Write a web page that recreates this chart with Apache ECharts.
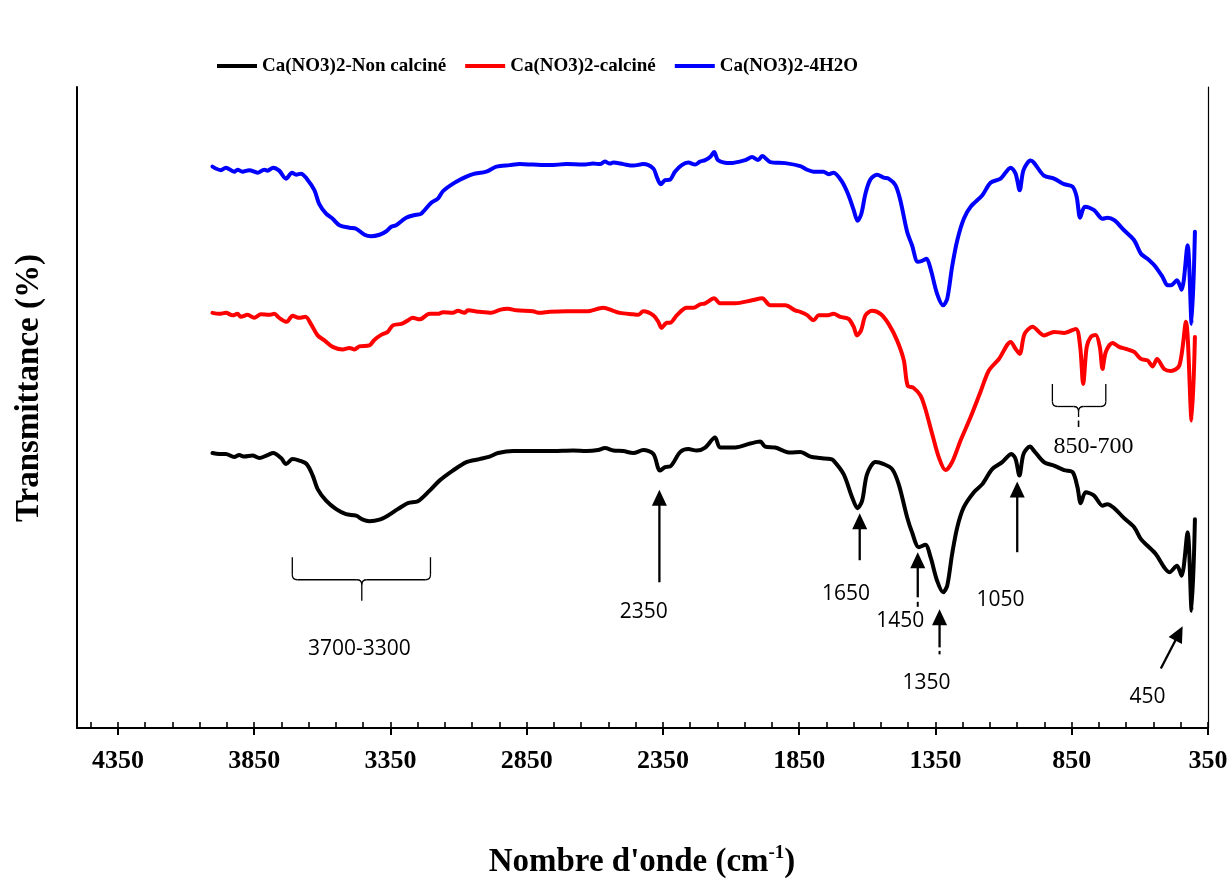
<!DOCTYPE html>
<html><head><meta charset="utf-8">
<script src="https://cdn.jsdelivr.net/npm/echarts@6/dist/echarts.min.js"></script>
<style>html,body{margin:0;padding:0;background:#fff}#c{width:1232px;height:885px}</style>
</head><body><div id="c"></div>
<script>
// ---------------- data (wavenumber cm-1, transmittance a.u.) ----------------
const seriesNames = ['Ca(NO3)2-Non calciné', 'Ca(NO3)2-calciné', 'Ca(NO3)2-4H2O'];
const seriesColors = ['#000000', '#ff0000', '#0000ff'];

const nonCalcine = [[4003,54.9],[3978,54.7],[3954,54.7],[3923,54.1],[3905,54.5],[3886,54.2],[3856,54.4],[3831,53.9],[3801,54.5],[3780,54.9],[3751,53.9],[3733,52.7],[3709,53.7],[3684,53.4],[3657,52.7],[3635,50.4],[3617,47.7],[3586,45.4],[3549,43.7],[3513,42.7],[3476,42.4],[3451,41.6],[3427,41.3],[3390,41.6],[3360,42.4],[3323,43.7],[3286,44.9],[3249,45.3],[3206,47.4],[3170,49.4],[3121,51.4],[3071,53.1],[3023,53.7],[2986,54.2],[2955,54.9],[2900,55.3],[2827,55.3],[2753,55.3],[2680,55.4],[2630,55.3],[2588,55.5],[2563,55.9],[2532,55.4],[2496,55.3],[2459,54.9],[2422,55.5],[2385,54.7],[2361,51.4],[2342,52.1],[2324,52.2],[2287,55.1],[2257,55.7],[2226,55.4],[2195,56],[2159,58],[2140,56],[2085,56],[2030,56.8],[1993,57.2],[1975,56.2],[1938,56],[1883,55],[1846,55.1],[1809,54.2],[1773,53.9],[1736,53.7],[1724,53.4],[1687,50.7],[1656,46.1],[1636,43.9],[1619,45.4],[1601,50.7],[1570,53.1],[1540,52.7],[1509,51.7],[1485,48.7],[1454,42.1],[1436,39.1],[1411,36.1],[1387,36.6],[1368,34.1],[1344,29.4],[1322,27.1],[1307,28.4],[1289,34.7],[1270,40.1],[1246,44.1],[1209,47.1],[1178,48.7],[1142,51.7],[1105,53.1],[1071,54.7],[1056,53.7],[1042,50.4],[1027,54.7],[1003,56.2],[989,55.4],[952,53.1],[915,52.4],[878,51.5],[847,51.1],[829,48.1],[817,44.9],[799,47.1],[768,46.4],[737,44.4],[719,44.7],[694,43.9],[658,41.9],[621,40.1],[596,37.7],[572,36.4],[541,34.7],[511,32.1],[492,31.1],[464,32.4],[447,30.4],[425,39.1],[410,23.4],[398,41.7]];

const calcine = [[4003,82.9],[3978,82.7],[3954,82.9],[3929,82.4],[3911,82.7],[3899,82.1],[3874,82.5],[3850,81.9],[3825,82.6],[3795,82.5],[3776,82.7],[3758,81.9],[3731,81.1],[3709,82.3],[3684,81.9],[3662,82.1],[3641,80.6],[3617,78.4],[3592,77.4],[3562,76.1],[3525,75.6],[3500,75.9],[3482,75.6],[3464,76.2],[3427,76.4],[3409,77.5],[3384,78.5],[3360,79.1],[3341,80.4],[3310,80.7],[3292,81.2],[3268,81.9],[3243,81.6],[3206,82.7],[3176,82.7],[3157,83],[3121,82.9],[3102,83.3],[3078,82.9],[3066,83.4],[3023,83.1],[2980,82.9],[2949,83.5],[2919,83.7],[2888,83.4],[2827,83.2],[2802,82.9],[2765,83.1],[2704,83.2],[2630,83.2],[2569,83.9],[2532,83.3],[2508,82.9],[2459,82.6],[2441,82.5],[2422,83.2],[2385,82.4],[2367,81.1],[2355,79.9],[2336,80.9],[2324,80.9],[2299,82.4],[2263,83.9],[2238,83.9],[2214,84.6],[2195,84.8],[2162,85.8],[2140,84.8],[2085,84.8],[2023,85.4],[1986,85.8],[1956,84.4],[1901,84.4],[1865,83.4],[1846,83.1],[1822,82.5],[1797,81.4],[1779,82.4],[1748,82.4],[1724,82.7],[1699,82.1],[1669,81.7],[1650,80.1],[1638,78.4],[1623,79.4],[1607,82.4],[1583,83.3],[1552,82.7],[1522,80.7],[1491,77.4],[1466,73.4],[1452,68.4],[1430,67.9],[1405,66.4],[1387,63.7],[1362,58.7],[1338,54.1],[1313,51.5],[1289,53.1],[1258,57.4],[1221,62.1],[1185,67.1],[1154,71.4],[1117,73.7],[1074,77.1],[1056,75.7],[1041,74.7],[1023,78.7],[994,80.1],[952,78.4],[915,79.1],[878,78.9],[835,79.7],[819,76.1],[808,68.7],[795,76.1],[780,78.1],[762,78.5],[747,76.1],[737,71.7],[725,75.1],[700,76.9],[676,76.1],[651,75.7],[621,75.1],[596,73.7],[572,73.4],[553,72.2],[537,73.7],[511,71.7],[486,71.3],[455,72.4],[431,81.1],[410,61.4],[398,78.1]];

const tetrahydrate = [[4003,112.1],[3972,111.4],[3954,111.9],[3923,111.1],[3911,111.5],[3893,111.1],[3868,111.4],[3837,110.9],[3813,111.5],[3801,111.3],[3780,111.9],[3758,111.3],[3733,109.7],[3711,110.9],[3696,110.5],[3678,110.7],[3657,109.7],[3629,107.4],[3611,104.6],[3586,102.7],[3562,101.7],[3537,100.4],[3500,99.9],[3476,99.7],[3445,98.5],[3421,98.2],[3390,98.5],[3365,99.2],[3347,100.1],[3329,100.4],[3292,101.9],[3255,102.5],[3237,102.7],[3200,104.9],[3176,105.7],[3157,107.2],[3114,108.9],[3071,110.1],[3047,110.6],[2998,111.1],[2961,112.1],[2912,112.4],[2875,112.6],[2827,112.5],[2765,112.4],[2704,112.6],[2643,112.5],[2606,112.7],[2581,112.6],[2563,113.1],[2545,112.7],[2532,112.9],[2496,112.6],[2459,112.3],[2422,112.6],[2385,111.7],[2373,110.1],[2358,108.6],[2342,109.4],[2324,109.5],[2306,111.1],[2281,112.4],[2257,112.9],[2232,112.5],[2214,113.1],[2195,113.4],[2177,114],[2162,115],[2148,113.4],[2103,112.8],[2048,113.4],[2023,114],[2001,113.4],[1986,114.2],[1956,113],[1901,112.8],[1846,112.2],[1822,111.5],[1797,111.1],[1761,111.1],[1742,110.6],[1724,110.9],[1693,109.1],[1669,106.4],[1650,103.4],[1636,101.3],[1622,102.7],[1607,106.7],[1589,109.5],[1564,110.5],[1540,109.9],[1522,109.7],[1497,108.4],[1479,105.4],[1454,99.1],[1436,96.4],[1415,93.1],[1399,93.3],[1383,93.7],[1368,91.7],[1344,86.7],[1322,84.4],[1307,85.7],[1289,92.1],[1270,97.4],[1246,101.7],[1221,104.1],[1178,106.4],[1148,108.9],[1111,109.7],[1074,111.9],[1056,110.7],[1041,107.4],[1027,111.4],[1001,113.3],[989,112.9],[952,110.3],[915,109.7],[878,108.6],[847,108.1],[832,106.1],[819,101.9],[802,104.1],[768,103.4],[737,101.7],[719,101.9],[694,101.4],[658,99.4],[621,97.4],[596,94.7],[572,93.7],[547,92.4],[517,90.1],[498,88.4],[486,88.4],[464,89.4],[447,87.5],[425,96.4],[410,80.7],[398,99.1]];

const majorTickValues = [350, 850, 1350, 1850, 2350, 2850, 3350, 3850, 4350];

// annotations (in data units)
const arrows = [
  {from: [2363, 29.1], to: [2363, 47.6]},
  {from: [1628, 33.5], to: [1628, 42.9]},
  {from: [1415, 26.1], to: [1415, 35.1], dot: [25.2, 24.2]},
  {from: [1335, 16.1], to: [1335, 23.7], dot: [15.4, 14.7]},
  {from: [1050, 35.1], to: [1050, 49.2]},
  {from: [523, 11.9], to: [443, 20.3]}
];
const peakLabels = [
  {text: '2350', at: [2420, 23.1]},
  {text: '1650', at: [1678, 26.7]},
  {text: '1450', at: [1479, 21.3]},
  {text: '1350', at: [1383, 8.9]},
  {text: '1050', at: [1111, 25.5]},
  {text: '450', at: [572, 6.1]},
  {text: '3700-3300', at: [3464, 15.7]},
  {text: '850-700', at: [770, 56.2], serif: true}
];
const braces = [
  {left: 3710, right: 3203, center: 3455, topT: 34.1, barT: 29.6, tipT: 25.4},
  {left: 921, right: 725, center: 825, topT: 68.7, barT: 64.2, tipT: 62.1, tail: [61.4, 60.1]}
];

// ---------------- chart ----------------
const chart = echarts.init(document.getElementById('c'), null, {renderer: 'canvas'});
const serifBold = {fontFamily: 'Liberation Serif', fontWeight: 'bold', color: '#000'};
const dataSets = [nonCalcine, calcine, tetrahydrate];

const option = {
  animation: false,
  backgroundColor: '#fff',
  grid: {left: 77, right: 24, top: 87, bottom: 157, outerBoundsMode: 'none'},
  legend: {
    left: 212, top: 50, icon: 'rect', itemWidth: 40, itemHeight: 4, itemGap: 19,
    textStyle: Object.assign({fontSize: 19, lineHeight: 22}, serifBold),
    data: seriesNames
  },
  xAxis: [
    {
      type: 'value', min: 350, max: 4500, interval: 500, inverse: true, position: 'bottom',
      axisLine: {onZero: false, lineStyle: {color: '#000', width: 2}},
      axisTick: {inside: false, length: 7, lineStyle: {color: '#000', width: 2}, customValues: majorTickValues},
      axisLabel: Object.assign({fontSize: 26, margin: 20, customValues: majorTickValues, formatter: v => String(v)}, serifBold),
      splitLine: {show: false}
    },
    {
      type: 'value', min: 350, max: 4500, interval: 100, inverse: true, position: 'bottom',
      axisLine: {show: false, onZero: false},
      axisTick: {inside: true, length: 6, lineStyle: {color: '#000', width: 1.6}},
      axisLabel: {show: false}, splitLine: {show: false}
    }
  ],
  yAxis: [
    {type: 'value', min: 0, max: 128, position: 'left',
     axisLine: {show: true, lineStyle: {color: '#000', width: 2}},
     axisTick: {show: false}, axisLabel: {show: false}, splitLine: {show: false}},
    {type: 'value', min: 0, max: 128, position: 'right',
     axisLine: {show: true, lineStyle: {color: '#000', width: 1.2}},
     axisTick: {show: false}, axisLabel: {show: false}, splitLine: {show: false}}
  ],
  series: seriesNames.map((n, i) => ({
    name: n, type: 'line', data: dataSets[i], symbol: 'none', showSymbol: false,
    xAxisIndex: 0, yAxisIndex: 0, smooth: 0.3,
    lineStyle: {color: seriesColors[i], width: 4, cap: 'round', join: 'round'},
    itemStyle: {color: seriesColors[i]}
  }))
};
chart.setOption(option);

function px(w, t) { return chart.convertToPixel({xAxisIndex: 0, yAxisIndex: 0}, [w, t]); }
const g = [];
// axis titles
g.push({type: 'text', x: 29, y: 388, rotation: Math.PI / 2,
  style: {text: 'Transmittance (%)', fontFamily: 'Liberation Serif', fontWeight: 'bold', fontSize: 33,
          fill: '#000', align: 'center', verticalAlign: 'middle'}});
g.push({type: 'text', x: 642, y: 862,
  style: {text: "{a|Nombre d'onde (cm}{s|-1}{a|)}", align: 'center', verticalAlign: 'middle',
    rich: {a: {fontFamily: 'Liberation Serif', fontWeight: 'bold', fontSize: 33, fill: '#000', lineHeight: 36},
           s: {fontFamily: 'Liberation Serif', fontWeight: 'bold', fontSize: 19, fill: '#000', verticalAlign: 'top', lineHeight: 36, padding: [0, 0, 15, 0]}}}});
// arrows
arrows.forEach(a => {
  const p1 = px(a.from[0], a.from[1]), p2 = px(a.to[0], a.to[1]);
  const dx = p2[0] - p1[0], dy = p2[1] - p1[1], L = Math.hypot(dx, dy), ux = dx / L, uy = dy / L;
  const hl = 16, hw = 7.5;
  const bx = p2[0] - ux * hl, by = p2[1] - uy * hl;
  g.push({type: 'line', shape: {x1: p1[0], y1: p1[1], x2: bx + ux, y2: by + uy}, style: {stroke: '#000', lineWidth: 2.3}});
  g.push({type: 'polygon', shape: {points: [[p2[0], p2[1]], [bx - uy * hw, by + ux * hw], [bx + uy * hw, by - ux * hw]]}, style: {fill: '#000'}});
  if (a.dot) {
    const d1 = px(a.from[0], a.dot[0]), d2 = px(a.from[0], a.dot[1]);
    g.push({type: 'line', shape: {x1: d1[0], y1: d1[1], x2: d2[0], y2: d2[1]}, style: {stroke: '#000', lineWidth: 2}});
  }
});
// braces (lines + quadratic curves)
function seg(x1, y1, x2, y2, w) { g.push({type: 'line', shape: {x1, y1, x2, y2}, style: {stroke: '#000', lineWidth: w}}); }
function curve(x1, y1, cx, cy, x2, y2, w) { g.push({type: 'bezierCurve', shape: {x1, y1, x2, y2, cpx1: cx, cpy1: cy}, style: {stroke: '#000', fill: null, lineWidth: w}}); }
braces.forEach(b => {
  const xl = px(b.left, b.barT)[0], xr = px(b.right, b.barT)[0], xc = px(b.center, b.barT)[0];
  const yt = px(b.left, b.topT)[1], yb = px(b.left, b.barT)[1], ytip = px(b.left, b.tipT)[1];
  const r = 5, w = 1.3;
  seg(xl, yt, xl, yb - r, w); curve(xl, yb - r, xl, yb, xl + r, yb, w);
  seg(xl + r, yb, xc - r, yb, w); curve(xc - r, yb, xc, yb, xc, yb + r, w);
  seg(xc, yb + r, xc, ytip, w); curve(xc, yb + r, xc, yb, xc + r, yb, w);
  seg(xc + r, yb, xr - r, yb, w); curve(xr - r, yb, xr, yb, xr, yb - r, w);
  seg(xr, yb - r, xr, yt, w);
  if (b.tail) {
    const t1 = px(b.center, b.tail[0]), t2 = px(b.center, b.tail[1]);
    seg(t1[0], t1[1], t2[0], t2[1], 1.6);
  }
});
// peak labels
peakLabels.forEach(l => {
  const p = px(l.at[0], l.at[1]);
  g.push({type: 'text', x: p[0], y: p[1], style: {text: l.text,
    fontFamily: l.serif ? 'Liberation Serif' : 'Open Sans', fontSize: l.serif ? 24 : 21,
    fill: '#000', align: 'center', verticalAlign: 'middle'}});
});
chart.setOption({graphic: g});
</script></body></html>
